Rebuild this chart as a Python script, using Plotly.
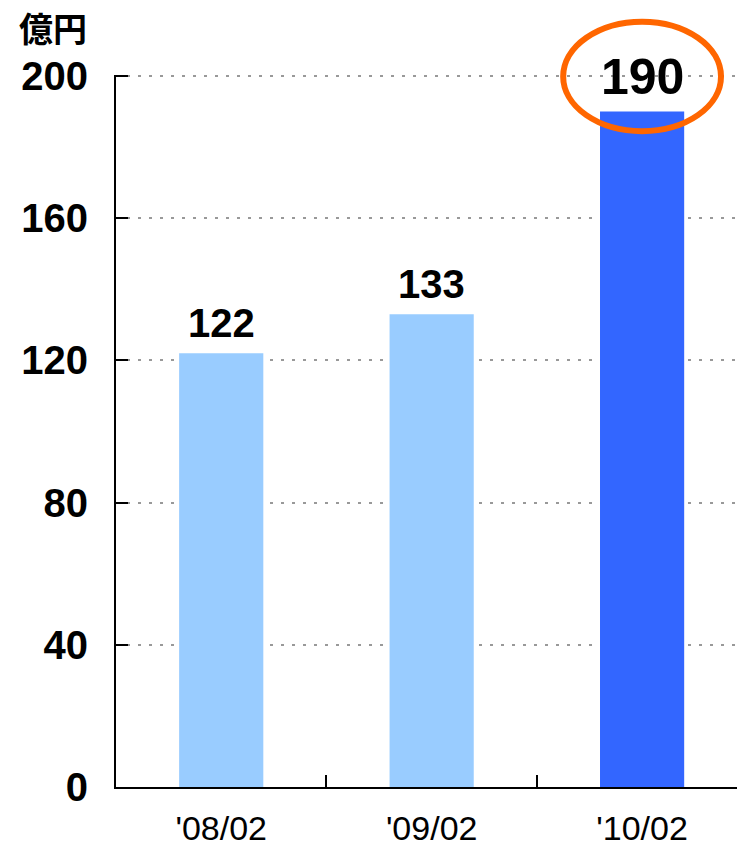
import plotly.graph_objects as go

# Sales by fiscal period (unit: 100 million yen)
periods = ["'08/02", "'09/02", "'10/02"]
sales = [122, 133, 190]
bar_colors = ["#99CCFF", "#99CCFF", "#3366FF"]
y_ticks = [0, 40, 80, 120, 160, 200]
unit_label = "億円"
highlight_index = 2

W, H = 737, 846
M_L, M_R, M_T, M_B = 116, 0, 75, 59
Y_RANGE = [0, 200.3]
X_RANGE = [-0.5, 2.451]

fig = go.Figure()
fig.add_trace(go.Bar(
    x=list(range(len(periods))),
    y=sales,
    width=0.4,
    marker=dict(color=bar_colors, line=dict(width=0)),
    hoverinfo="skip",
))

# value labels above each bar
for i, v in enumerate(sales):
    big = i == highlight_index
    fig.add_annotation(
        x=i, y=v, xref="x", yref="y",
        text=str(v), showarrow=False,
        yanchor="bottom", yshift=5 if big else 6,
        font=dict(family="Liberation Sans", size=50 if big else 40,
                  color="black", weight="bold"),
    )

# orange ellipse around the highlighted value, placed in paper space so it is not clipped
def to_paper(xv, yv):
    fx = (xv - X_RANGE[0]) / (X_RANGE[1] - X_RANGE[0])
    fy = (yv - Y_RANGE[0]) / (Y_RANGE[1] - Y_RANGE[0])
    return fx, fy

hv = sales[highlight_index]
fx0, fy0 = to_paper(highlight_index - 0.375, hv - 5.5)
fx1, fy1 = to_paper(highlight_index + 0.375, hv + 25.3)
fig.add_shape(type="circle", xref="paper", yref="paper",
              x0=fx0, x1=fx1, y0=fy0, y1=fy1,
              line=dict(color="#FF6600", width=6), layer="above")

pw = W - M_L - M_R
ph = H - M_T - M_B
fig.add_annotation(
    x=(17 - M_L) / pw, y=1 + (M_T - 27) / ph,
    xref="paper", yref="paper", xanchor="left", yanchor="middle",
    text=unit_label, showarrow=False,
    font=dict(family="Noto Sans CJK JP", size=34, color="black", weight="bold"),
)

fig.update_layout(
    width=W, height=H,
    margin=dict(l=M_L, r=M_R, t=M_T, b=M_B, pad=0, autoexpand=False),
    paper_bgcolor="white", plot_bgcolor="white",
    showlegend=False,
)
fig.update_xaxes(
    range=X_RANGE, automargin=False,
    tickmode="array", tickvals=[0, 1, 2], ticktext=periods,
    showgrid=False, zeroline=False,
    showline=True, linecolor="black", linewidth=2,
    ticks="",
    tickfont=dict(family="Liberation Sans", size=34, color="black"),
    ticklabelstandoff=10,
    # boundary marks between categories
    minor=dict(tickmode="array", tickvals=[0.5, 1.5], ticks="inside",
               ticklen=12, tickwidth=2, tickcolor="black", showgrid=False),
)
fig.update_yaxes(
    range=Y_RANGE, automargin=False,
    tickmode="array", tickvals=y_ticks,
    showgrid=True, gridcolor="#999999", gridwidth=2, griddash="3px,8px",
    zeroline=False,
    showline=True, linecolor="black", linewidth=2,
    ticks="inside", ticklen=12, tickwidth=2, tickcolor="black",
    tickfont=dict(family="Liberation Sans", size=40, color="black", weight="bold"),
    ticklabelstandoff=18,
)

fig.write_html("out.html")
